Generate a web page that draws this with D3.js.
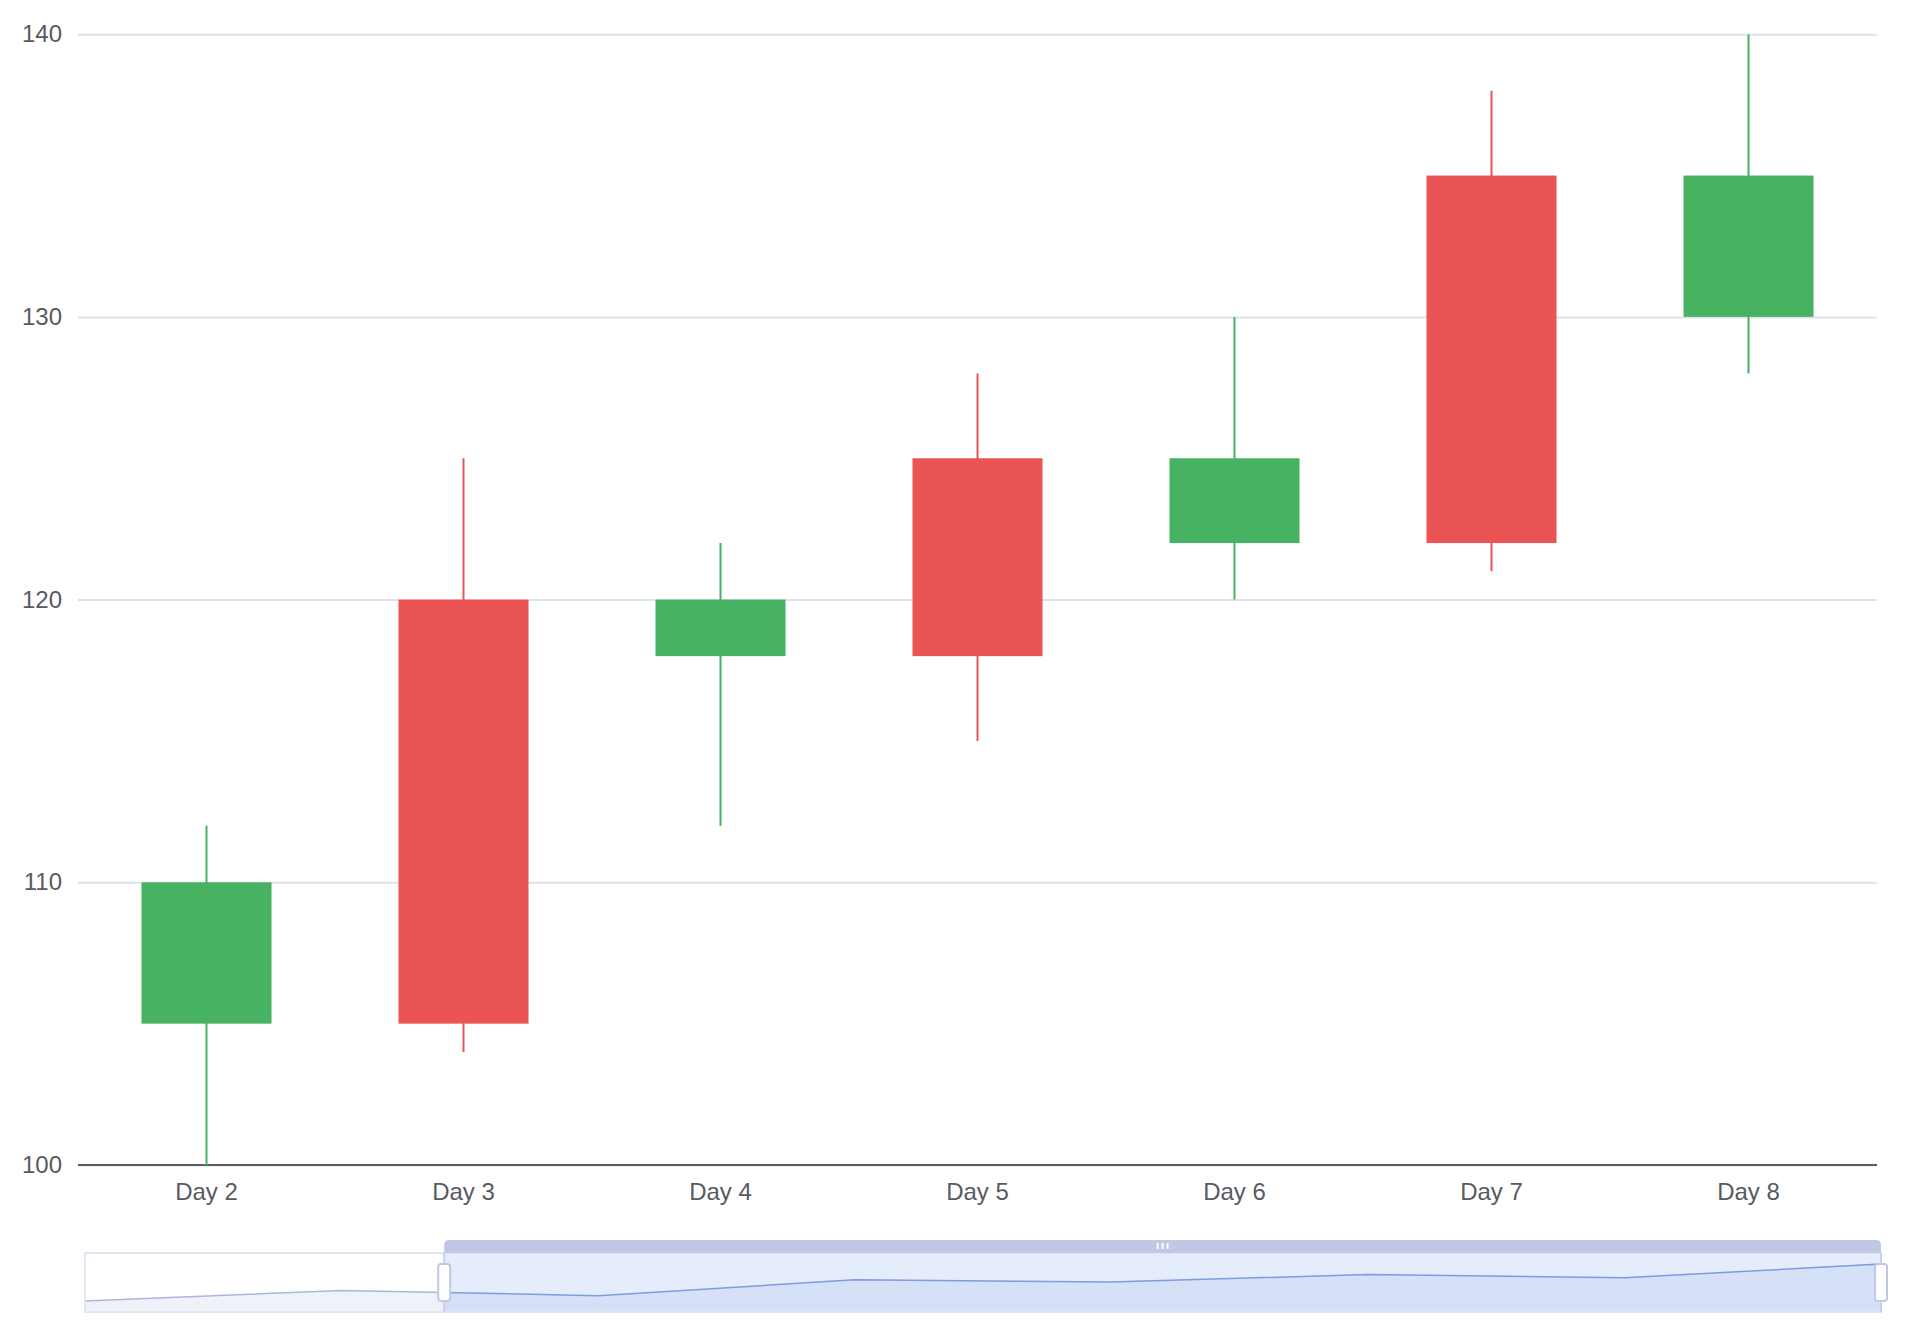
<!DOCTYPE html>
<html>
<head>
<meta charset="utf-8">
<script src="https://cdn.jsdelivr.net/npm/d3@7"></script>
<style>
  body { margin: 0; background: #fff; }
  svg { display: block; font-family: "Liberation Sans", Arial, sans-serif; }
</style>
</head>
<body>
<svg width="1912" height="1337"></svg>
<script>
// candlestick data: [open, close, lowest, highest] per day
const days   = ['Day 1', 'Day 2', 'Day 3', 'Day 4', 'Day 5', 'Day 6', 'Day 7', 'Day 8'];
const opens  = [100, 110, 105, 120, 118, 125, 122, 135];
const closes = [110, 105, 120, 118, 125, 122, 135, 130];
const lows   = [95, 100, 104, 112, 115, 120, 121, 128];
const highs  = [115, 112, 125, 122, 128, 130, 138, 140];
const yTicks = [100, 110, 120, 130, 140];

// dataZoom window (percent of the category range)
const zoomStart = 20;
const zoomEnd = 100;
const firstVisible = 1;

const svg = d3.select('svg');
const upColor = '#eb5454';
const downColor = '#47b262';
const textColor = '#585a62';

const data = days.map((day, i) => ({
  day, open: opens[i], close: closes[i], low: lows[i], high: highs[i]
}));
const visible = data.slice(firstVisible);

const grid = { left: 78, right: 1877, top: 34.2, bottom: 1165 };

const x = d3.scaleBand()
  .domain(visible.map(d => d.day))
  .range([grid.left, grid.right])
  .paddingInner(0.494)
  .paddingOuter(0.247);

const y = d3.scaleLinear()
  .domain([100, 140])
  .range([grid.bottom, grid.top]);

// grid lines + y labels
const yAxis = d3.axisLeft(y)
  .tickValues(yTicks)
  .tickSize(-(grid.right - grid.left))
  .tickPadding(16);

const yAxisG = svg.append('g')
  .attr('transform', `translate(${grid.left},0)`)
  .call(yAxis);
yAxisG.select('.domain').remove();
yAxisG.selectAll('.tick line').attr('stroke', '#dde2ec').attr('stroke-width', 2);
yAxisG.selectAll('.tick text')
  .attr('fill', textColor)
  .attr('font-size', 24)
  .attr('font-family', '"Liberation Sans", Arial, sans-serif');

// x axis
const xAxis = d3.axisBottom(x).tickSize(0).tickPadding(18);
const xAxisG = svg.append('g')
  .attr('transform', `translate(0,${grid.bottom})`)
  .call(xAxis);
xAxisG.select('.domain').remove();
xAxisG.append('line')
  .attr('x1', grid.left).attr('x2', grid.right)
  .attr('stroke', '#5c5e66').attr('stroke-width', 2);
xAxisG.selectAll('.tick text')
  .attr('fill', textColor)
  .attr('font-size', 24)
  .attr('font-family', '"Liberation Sans", Arial, sans-serif');

// candles
const colorOf = d => d.close > d.open ? upColor : downColor;
const candles = svg.append('g').selectAll('g')
  .data(visible)
  .join('g');

candles.append('line')
  .attr('x1', d => x(d.day) + x.bandwidth() / 2)
  .attr('x2', d => x(d.day) + x.bandwidth() / 2)
  .attr('y1', d => y(d.high))
  .attr('y2', d => y(d.low))
  .attr('stroke', colorOf)
  .attr('stroke-width', 2);

candles.append('rect')
  .attr('x', d => x(d.day))
  .attr('width', x.bandwidth())
  .attr('y', d => y(Math.max(d.open, d.close)))
  .attr('height', d => Math.abs(y(d.open) - y(d.close)))
  .attr('fill', colorOf);

// slider (data zoom)
const slider = { left: 85, right: 1881, top: 1253, bottom: 1312, barTop: 1240 };
const sx = d3.scaleLinear().domain([0, data.length - 1]).range([slider.left, slider.right]);
const [oMin, oMax] = d3.extent(opens);
const pad = (oMax - oMin) * 0.3;
const sy = d3.scaleLinear().domain([oMin - pad, oMax + pad]).range([slider.bottom, slider.top]);

const shadowArea = d3.area()
  .x((d, i) => sx(i))
  .y0(slider.bottom)
  .y1(d => sy(d));
const shadowLine = d3.line()
  .x((d, i) => sx(i))
  .y(d => sy(d));

const sg = svg.append('g');
const selX0 = slider.left + (slider.right - slider.left) * zoomStart / 100;
const selX1 = slider.left + (slider.right - slider.left) * zoomEnd / 100;

// unselected shadow
sg.append('path').attr('d', shadowArea(opens)).attr('fill', '#f0f2f9');
sg.append('path').attr('d', shadowLine(opens))
  .attr('fill', 'none').attr('stroke', '#a9b6e3').attr('stroke-width', 1.5);

// selected window
svg.append('clipPath').attr('id', 'sel')
  .append('rect')
  .attr('x', selX0).attr('y', slider.top)
  .attr('width', selX1 - selX0).attr('height', slider.bottom - slider.top);

const sel = sg.append('g').attr('clip-path', 'url(#sel)');
sel.append('rect')
  .attr('x', selX0).attr('y', slider.top)
  .attr('width', selX1 - selX0).attr('height', slider.bottom - slider.top)
  .attr('fill', '#e5edfd');
sel.append('path').attr('d', shadowArea(opens)).attr('fill', '#d6e1f8');
sel.append('path').attr('d', shadowLine(opens))
  .attr('fill', 'none').attr('stroke', '#7f9be0').attr('stroke-width', 1.5);

// border
sg.append('rect')
  .attr('x', slider.left).attr('y', slider.top)
  .attr('width', slider.right - slider.left).attr('height', slider.bottom - slider.top)
  .attr('fill', 'none').attr('stroke', '#e0e5f2').attr('stroke-width', 2);

// move bar with rounded top corners
const r = 5;
sg.append('path')
  .attr('d', `M${selX0},${slider.top} V${slider.barTop + r} Q${selX0},${slider.barTop} ${selX0 + r},${slider.barTop}
    H${selX1 - r} Q${selX1},${slider.barTop} ${selX1},${slider.barTop + r} V${slider.top} Z`)
  .attr('fill', '#c0c8e5');

const gripX = (selX0 + selX1) / 2;
sg.selectAll('rect.grip')
  .data([-5, 0, 5])
  .join('rect')
  .attr('class', 'grip')
  .attr('x', d => gripX + d - 1)
  .attr('y', slider.barTop + 3)
  .attr('width', 2)
  .attr('height', 6)
  .attr('fill', '#fff');

// handles
[selX0, selX1].forEach(hx => {
  sg.append('line')
    .attr('x1', hx).attr('x2', hx)
    .attr('y1', slider.top).attr('y2', slider.bottom)
    .attr('stroke', '#c6cfec').attr('stroke-width', 2);
  sg.append('rect')
    .attr('x', hx - 6).attr('y', 1264)
    .attr('width', 12).attr('height', 37)
    .attr('rx', 3)
    .attr('fill', '#fff')
    .attr('stroke', '#c0c8e5')
    .attr('stroke-width', 2);
});
</script>
</body>
</html>
